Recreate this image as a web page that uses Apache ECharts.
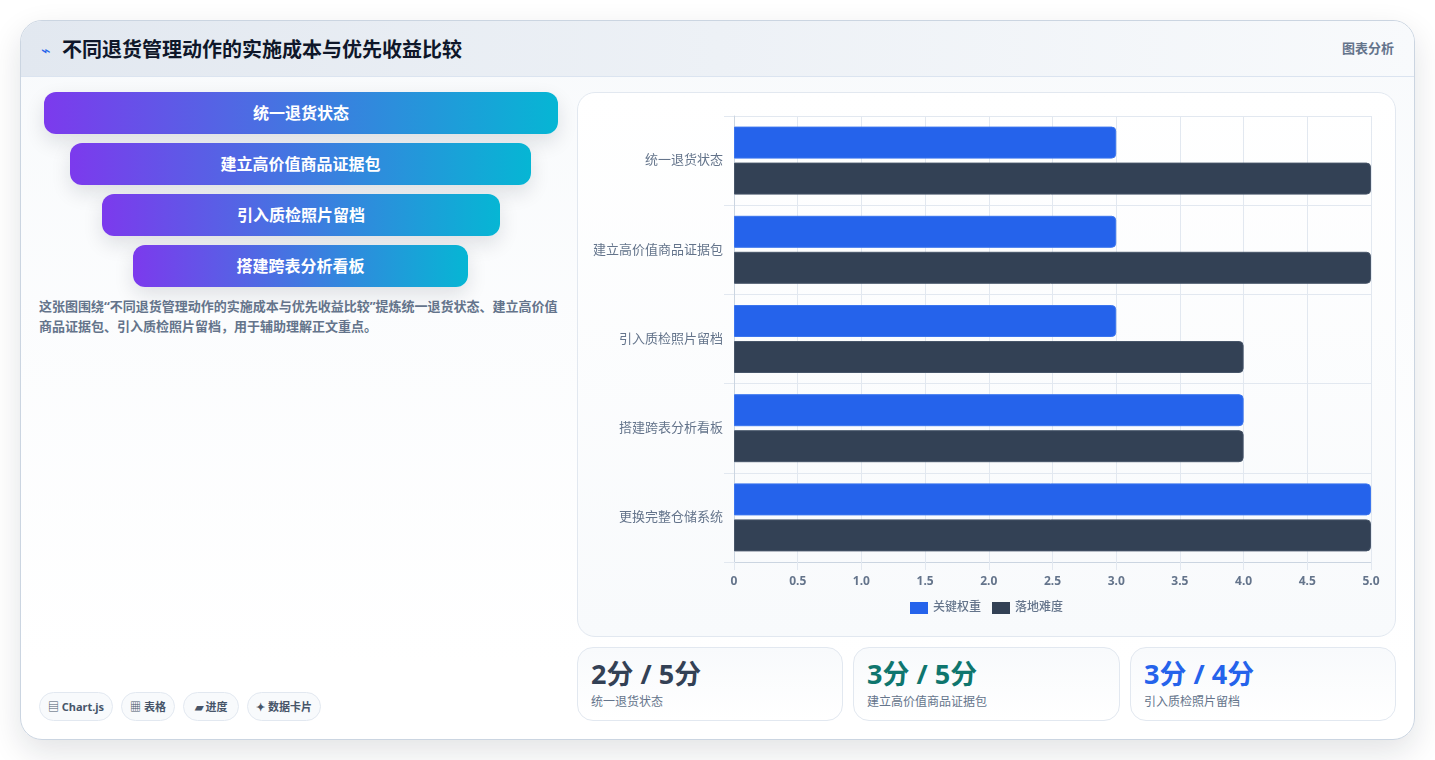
<!DOCTYPE html>
<html lang="zh-CN">
<head>
<meta charset="utf-8">
<title>不同退货管理动作的实施成本与优先收益比较</title>
<script src="https://cdn.jsdelivr.net/npm/echarts@6/dist/echarts.min.js"></script>
<style>
* { box-sizing: border-box; margin: 0; padding: 0; }
html, body { width: 1435px; height: 760px; overflow: hidden; background: #fff; font-family: "Noto Sans", "Noto Sans CJK SC", sans-serif; }
#card { position: absolute; left: 20px; top: 20px; width: 1395px; height: 720px; border: 1px solid #cbd5e1; border-radius: 22px; overflow: hidden; background: linear-gradient(180deg, #f8fafc 0%, #ffffff 90%); }
#shadow { position: absolute; left: 20px; top: 20px; width: 1395px; height: 720px; border-radius: 22px; box-shadow: 0 12px 32px rgba(15,23,42,.12); }
#head { position: absolute; left: 0; top: 0; width: 100%; height: 56px; background: linear-gradient(90deg, #e2e8f0 0%, #f8fafc 100%); border-bottom: 1px solid #dbe4f0; }
#head .icon { position: absolute; left: 20px; top: 17px; font-size: 16px; line-height: 24px; color: #2563eb; }
#head h1 { position: absolute; left: 41px; top: 14px; font-size: 20px; line-height: 30px; font-weight: 700; color: #0f172a; }
#head .tag { position: absolute; right: 20px; top: 17px; font-size: 13px; line-height: 20px; font-weight: 700; color: #64748b; }
.step { position: absolute; height: 42px; border-radius: 12px; background: linear-gradient(90deg, #7c3aed, #06b6d4); color: #fff; text-align: center; font-size: 16px; line-height: 42px; font-weight: 700; box-shadow: 0 8px 20px rgba(15,23,42,.12); }
#note { position: absolute; left: 18px; top: 275px; width: 524px; font-size: 13px; line-height: 20px; font-weight: 700; color: #64748b; }
.chip { position: absolute; top: 671px; height: 29px; border: 1px solid #e2e8f0; border-radius: 15px; background: #f8fafc; color: #475569; font-size: 11px; line-height: 28px; font-weight: 700; text-align: center; white-space: nowrap; }
#panel { position: absolute; left: 556px; top: 71px; width: 819px; height: 545px; border: 1px solid #e2e8f0; border-radius: 18px; background: linear-gradient(180deg, #ffffff 0%, #f8fafc 100%); }
#chart { position: absolute; left: 0; top: 0; width: 817px; height: 543px; }
.stat { position: absolute; top: 626px; height: 74px; border: 1px solid #e2e8f0; border-radius: 16px; background: linear-gradient(180deg, #f8fafc, #ffffff); }
.stat b { position: absolute; left: 13px; top: 8px; font-size: 27px; line-height: 36px; font-weight: 700; white-space: nowrap; }
.stat span { position: absolute; left: 13px; top: 45px; font-size: 12px; line-height: 18px; color: #64748b; white-space: nowrap; }
</style>
</head>
<body>
<div id="shadow"></div>
<div id="card">
	<div id="head">
		<span class="icon">⌁</span>
		<h1>不同退货管理动作的实施成本与优先收益比较</h1>
		<span class="tag">图表分析</span>
	</div>
	<div class="step" style="left:23px;top:71px;width:514px">统一退货状态</div>
	<div class="step" style="left:49px;top:122px;width:461px">建立高价值商品证据包</div>
	<div class="step" style="left:81px;top:173px;width:398px">引入质检照片留档</div>
	<div class="step" style="left:112px;top:224px;width:335px">搭建跨表分析看板</div>
	<div id="note">这张图围绕“不同退货管理动作的实施成本与优先收益比较”提炼统一退货状态、建立高价值商品证据包、引入质检照片留档，用于辅助理解正文重点。</div>
	<div class="chip" style="left:18px;width:74px">▤ Chart.js</div>
	<div class="chip" style="left:100px;width:54px">▦ 表格</div>
	<div class="chip" style="left:162px;width:56px">▰ 进度</div>
	<div class="chip" style="left:226px;width:74px">✦ 数据卡片</div>
	<div id="panel"><div id="chart"></div></div>
	<div class="stat" style="left:556px;width:266px"><b style="color:#334155">2分 / 5分</b><span>统一退货状态</span></div>
	<div class="stat" style="left:832px;width:267px"><b style="color:#0f766e">3分 / 5分</b><span>建立高价值商品证据包</span></div>
	<div class="stat" style="left:1109px;width:266px"><b style="color:#2563eb">3分 / 4分</b><span>引入质检照片留档</span></div>
</div>
<script>
//类别
var categories = ["统一退货状态", "建立高价值商品证据包", "引入质检照片留档", "搭建跨表分析看板", "更换完整仓储系统"];
//关键权重
var dataWeight = [3, 3, 3, 4, 5];
//落地难度
var dataDifficulty = [5, 5, 4, 4, 5];

var myChart = echarts.init(document.getElementById("chart"));
var font = '"Noto Sans", "Noto Sans CJK SC", sans-serif';
var option = {
	animation: false,
	textStyle: { fontFamily: font },
	grid: { left: 156, top: 23, width: 637, height: 446 },
	legend: {
		bottom: 17,
		left: "center",
		itemWidth: 18,
		itemHeight: 12,
		itemGap: 11,
		icon: "rect",
		itemStyle: { borderWidth: 0 },
		textStyle: { color: "#64748b", fontSize: 12, fontWeight: 500, fontFamily: font },
		data: ["关键权重", "落地难度"]
	},
	xAxis: {
		type: "value",
		min: 0,
		max: 5,
		interval: 0.5,
		axisLine: { show: true, lineStyle: { color: "#cbd5e1" } },
		axisTick: { show: true, length: 8, lineStyle: { color: "#e2e8f0" } },
		axisLabel: {
			color: "#64748b", fontSize: 12, fontWeight: 700, margin: 14, fontFamily: font,
			formatter: function (v) { return v === 0 ? "0" : v.toFixed(1); }
		},
		splitLine: { show: true, lineStyle: { color: "#e2e8f0" } }
	},
	yAxis: {
		type: "category",
		inverse: true,
		data: categories,
		axisLine: { show: true, lineStyle: { color: "#cbd5e1" } },
		axisTick: { show: true, length: 10, lineStyle: { color: "#e2e8f0" } },
		axisLabel: { color: "#64748b", fontSize: 13, margin: 11, fontFamily: font, padding: [0, 0, 4, 0] },
		splitLine: { show: true, lineStyle: { color: "#e2e8f0" } }
	},
	series: [
		{
			name: "关键权重",
			type: "bar",
			data: dataWeight,
			barWidth: 32,
			barGap: "12.5%",
			itemStyle: { color: "#2563eb", borderColor: "#3b75ee", borderWidth: 1, borderRadius: [0, 4, 4, 0] }
		},
		{
			name: "落地难度",
			type: "bar",
			data: dataDifficulty,
			barWidth: 32,
			itemStyle: { color: "#334155", borderColor: "#475569", borderWidth: 1, borderRadius: [0, 4, 4, 0] }
		}
	]
};
myChart.setOption(option);
</script>
</body>
</html>
